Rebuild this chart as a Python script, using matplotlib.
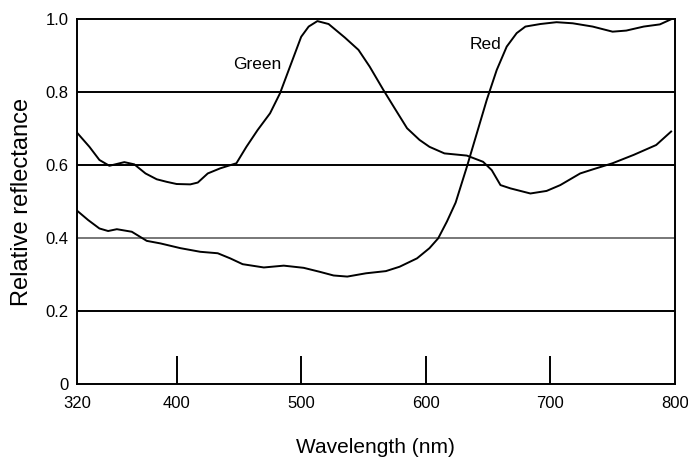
import matplotlib
matplotlib.use("Agg")
import matplotlib.pyplot as plt

plt.rcParams['font.family'] = ['Liberation Sans', 'DejaVu Sans']

green_nm = [320, 330, 338, 346, 358, 366, 375, 384, 392, 400, 411, 417, 425, 435, 448,
            456, 465, 475, 483, 491, 500, 506, 513, 522, 535, 546, 555, 566, 575, 585,
            595, 603, 615, 633, 646, 653, 660, 668, 684, 697, 708, 724, 734, 750, 767,
            785, 797]
green_refl = [0.689, 0.650, 0.614, 0.598, 0.608, 0.602, 0.577, 0.561, 0.554, 0.548, 0.547,
              0.552, 0.577, 0.591, 0.605, 0.650, 0.696, 0.742, 0.797, 0.870, 0.952, 0.980,
              0.995, 0.987, 0.950, 0.916, 0.870, 0.806, 0.756, 0.701, 0.669, 0.650, 0.632,
              0.626, 0.609, 0.586, 0.545, 0.536, 0.522, 0.529, 0.545, 0.577, 0.588, 0.605,
              0.628, 0.655, 0.692]

red_nm = [320, 329, 338, 345, 352, 364, 376, 387, 403, 419, 433, 443, 453, 470, 486, 502,
          515, 526, 537, 552, 568, 579, 593, 603, 610, 617, 624, 633, 641, 649, 657, 665,
          673, 680, 692, 705, 718, 734, 750, 761, 775, 788, 797]
red_refl = [0.475, 0.449, 0.426, 0.419, 0.424, 0.417, 0.392, 0.385, 0.372, 0.362, 0.358,
            0.344, 0.328, 0.319, 0.324, 0.318, 0.307, 0.297, 0.294, 0.303, 0.309, 0.321,
            0.344, 0.372, 0.399, 0.445, 0.497, 0.595, 0.687, 0.779, 0.861, 0.925, 0.962,
            0.980, 0.987, 0.992, 0.989, 0.980, 0.966, 0.969, 0.980, 0.986, 1.0]

x_ticks = [320, 400, 500, 600, 700, 800]
x_tick_labels = ['320', '400', '500', '600', '700', '800']
y_ticks = [0, 0.2, 0.4, 0.6, 0.8, 1.0]
y_tick_labels = ['0', '0.2', '0.4', '0.6', '0.8', '1.0']
inner_ticks = [400, 500, 600, 700]
grid_levels = [0.2, 0.4, 0.6, 0.8]
grid_colors = ['black', '#777777', 'black', 'black']

fig = plt.figure(figsize=(6.88, 4.59), dpi=100)
ax = fig.add_axes([0.1119, 0.164, 0.869, 0.794])

for lvl, c in zip(grid_levels, grid_colors):
    ax.axhline(lvl, color=c, lw=1.4, zorder=1)

ax.vlines(inner_ticks, 0, 0.077, color='black', lw=1.4, zorder=1)

ax.plot(green_nm, green_refl, color='black', lw=1.4, zorder=3)
ax.plot(red_nm, red_refl, color='black', lw=1.4, zorder=3)

ax.text(465, 0.875, 'Green', fontsize=12.5, ha='center', va='center')
ax.text(648, 0.932, 'Red', fontsize=12.5, ha='center', va='center')

ax.set_xlim(320, 800)
ax.set_ylim(0, 1.0)
ax.set_xticks(x_ticks)
ax.set_xticklabels(x_tick_labels)
ax.set_yticks(y_ticks)
ax.set_yticklabels(y_tick_labels)
ax.tick_params(axis='both', length=0, labelsize=12)
ax.tick_params(axis='x', pad=9)
ax.tick_params(axis='y', pad=6)

for s in ax.spines.values():
    s.set_color('black')
    s.set_linewidth(1.4)

ax.set_xlabel('Wavelength (nm)', fontsize=15)
ax.set_ylabel('Relative reflectance', fontsize=17)
ax.xaxis.set_label_coords(0.5, -0.174)
ax.xaxis.label.set_va('center')
ax.yaxis.set_label_coords(-0.092, 0.5)
ax.yaxis.label.set_va('center')

fig.savefig('out.png', dpi=100, facecolor='white')
